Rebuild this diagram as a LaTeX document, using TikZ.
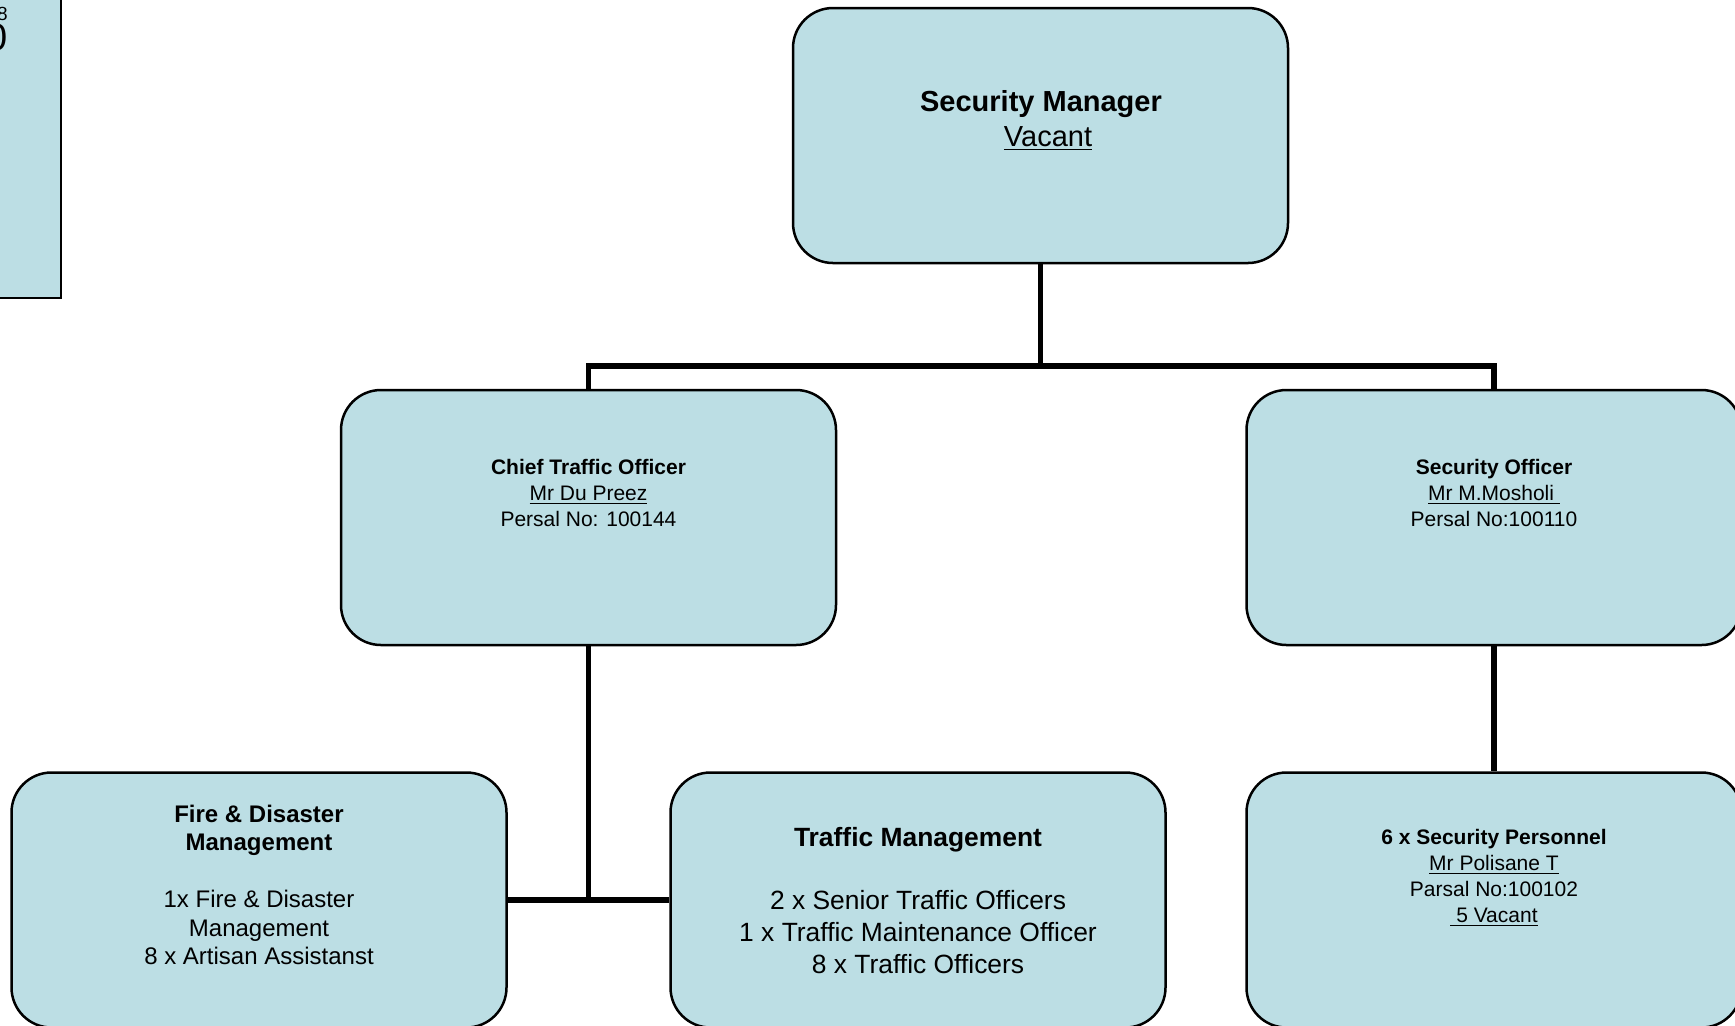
\documentclass[tikz,border=0pt]{standalone}
\usepackage{fontspec}
\setmainfont{Liberation Sans}
\definecolor{boxblue}{RGB}{188,222,228}
\tikzset{
  orgbox/.style={draw, line width=1.25pt, fill=boxblue, rounded corners=20pt,
    minimum width=247.5pt, minimum height=127.5pt, inner sep=0pt},
  orgtext/.style={anchor=north, align=center, inner sep=0pt},
  smalltext/.style={orgtext, font=\fontsize{10.5}{13}\selectfont},
  midtext/.style={orgtext, font=\fontsize{12}{14.25}\selectfont},
  largetext/.style={orgtext, font=\fontsize{13.2}{16}\selectfont},
  bigtext/.style={orgtext, font=\fontsize{14.5}{17.5}\selectfont}
}
\begin{document}
\begin{tikzpicture}[x=0.5pt, y=-0.5pt]
      \useasboundingbox (0,0) rectangle (1735,1025);
      \clip (0,0) rectangle (1735,1025);
      % cut-off box on the left
      \node[draw, line width=1.25pt, fill=boxblue, minimum width=130.5pt,
        minimum height=199pt, inner sep=0pt] (side) at (-69.5,99) {};
      \node[anchor=north east, align=right, inner sep=0pt,
        font=\fontsize{19}{15}\selectfont] (side-t) at (8,7)
        {{\fontsize{9.5}{15}\selectfont 8}\\0};
      % boxes
      \node[orgbox] (mgr) at (1040.5,135.5) {};
      \node[orgbox] (cto) at (588.5,517.5) {};
      \node[orgbox] (sec) at (1494,517.5) {};
      \node[orgbox] (fire) at (259,900) {};
      \node[orgbox] (trf) at (918,900) {};
      \node[orgbox] (pers) at (1494,900) {};
      % texts
      \node[bigtext] (mgr-t) at (1041,90) {\textbf{Security Manager}\\\hspace*{7pt}\underline{Vacant}};
      \node[smalltext] (cto-t) at (588.5,458.5) {\textbf{Chief Traffic Officer}\\\underline{Mr Du Preez}\\Persal No: 100144};
      \node[smalltext] (sec-t) at (1494,458.5) {\textbf{Security Officer}\\\underline{Mr M.Mosholi\ }\\Persal No:100110};
      \node[midtext] (fire-t) at (259,804.5) {\textbf{Fire \& Disaster}\\\textbf{Management}\\[14.25pt]1x Fire \& Disaster\\Management\\8 x Artisan Assistanst};
      \node[largetext] (trf-t) at (918,827) {\textbf{Traffic Management}\\[15.5pt]2 x Senior Traffic Officers\\1 x Traffic Maintenance Officer\\8 x Traffic Officers};
      \node[smalltext] (pers-t) at (1494,828.5) {\textbf{6 x Security Personnel}\\\underline{Mr Polisane T}\\Parsal No:100102\\\underline{\ 5 Vacant}};
      \begin{scope}[line width=2.75pt]
        \coordinate (bus) at (mgr.south |- 0,366);
        \draw (mgr.south) to (bus);
        \draw (cto.north) |- (bus) -| (sec.north);
        \draw (cto.south) to (cto.south |- fire.east);
        \draw (fire.east) to (trf.west);
        \draw (sec.south) to (pers.north);
      \end{scope}
    \end{tikzpicture}
\end{document}
